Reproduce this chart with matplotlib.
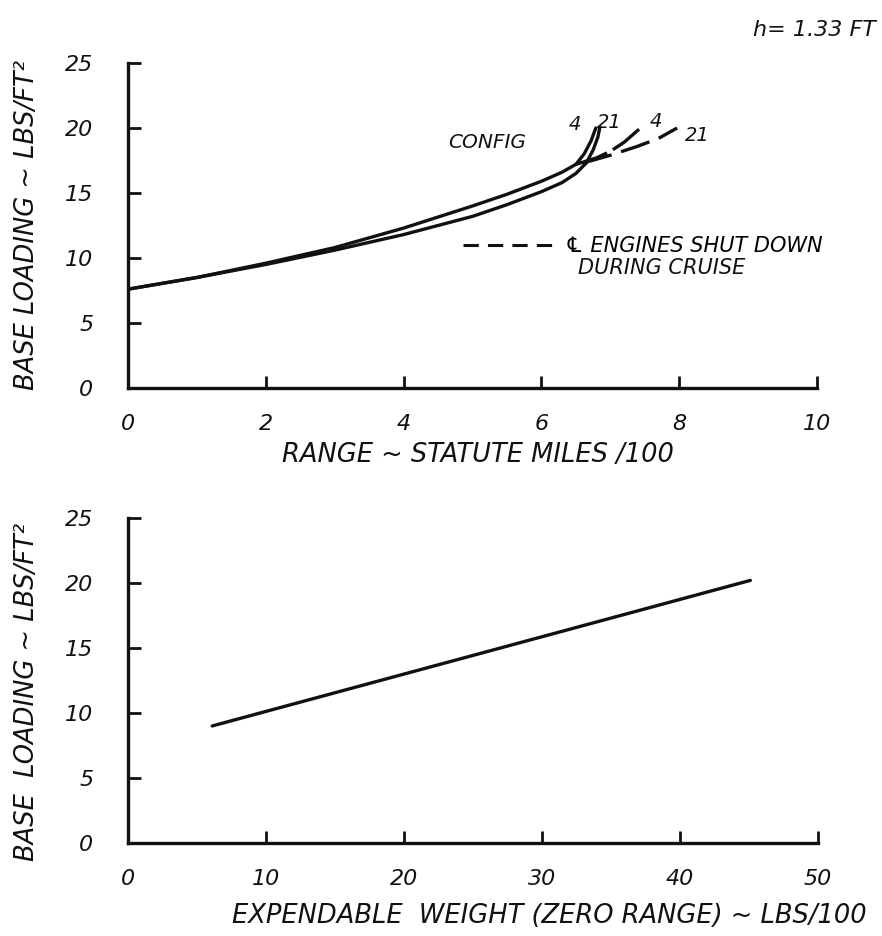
import matplotlib
matplotlib.use("Agg")
import matplotlib.pyplot as plt
from matplotlib.lines import Line2D

# Base loading vs range, all engines running
range_cfg4 = [0, 1, 2, 3, 4, 5, 5.5, 6.0, 6.3, 6.5, 6.62, 6.72, 6.79]
load_cfg4 = [7.6, 8.5, 9.6, 10.8, 12.3, 14.0, 14.9, 15.9, 16.6, 17.2, 18.0, 19.0, 20.0]
range_cfg21 = [0, 1, 2, 3, 4, 5, 5.5, 6.0, 6.3, 6.5, 6.65, 6.75, 6.82, 6.85]
load_cfg21 = [7.6, 8.5, 9.5, 10.6, 11.8, 13.2, 14.1, 15.1, 15.8, 16.5, 17.3, 18.3, 19.3, 20.1]

# Half of the engines shut down during cruise
range_cfg4_sd = [6.5, 6.8, 7.0, 7.2, 7.46]
load_cfg4_sd = [17.2, 17.7, 18.2, 18.9, 20.1]
range_cfg21_sd = [6.6, 7.0, 7.4, 7.7, 7.97]
load_cfg21_sd = [17.3, 17.9, 18.6, 19.2, 20.0]

range_ticks = [0, 2, 4, 6, 8, 10]
load_ticks = [0, 5, 10, 15, 20, 25]

# Base loading vs expendable weight at zero range
exp_weight = [6.1, 45.1]
exp_load = [9.0, 20.2]
weight_ticks = [0, 10, 20, 30, 40, 50]

plt.rcParams["font.family"] = ["DejaVu Sans"]
plt.rcParams["font.style"] = "italic"

INK = "#111111"
LW = 2.4

fig = plt.figure(figsize=(8.82, 9.36), dpi=100)
fig.patch.set_facecolor("white")
ax1 = fig.add_axes([0.1451, 0.5855, 0.7812, 0.3472])
ax2 = fig.add_axes([0.1451, 0.0994, 0.7823, 0.3472])


def style_axes(ax, xticks, yticks):
    for side in ("top", "right"):
        ax.spines[side].set_visible(False)
    for side in ("left", "bottom"):
        ax.spines[side].set_linewidth(2.4)
        ax.spines[side].set_color(INK)
    ax.set_xlim(xticks[0], xticks[-1])
    ax.set_ylim(yticks[0], yticks[-1])
    ax.set_xticks(xticks)
    ax.set_yticks(yticks)
    ax.tick_params(axis="both", direction="in", length=9, width=2, color=INK,
                   labelsize=16, labelcolor=INK)
    ax.tick_params(axis="x", pad=19)
    ax.tick_params(axis="y", pad=25)
    ax.set_facecolor("white")


# Upper panel: range
style_axes(ax1, range_ticks, load_ticks)
ax1.plot(range_cfg4, load_cfg4, color=INK, lw=LW, solid_capstyle="round")
ax1.plot(range_cfg21, load_cfg21, color=INK, lw=LW, solid_capstyle="round")
ax1.plot(range_cfg4_sd, load_cfg4_sd, color=INK, lw=LW, dashes=(10, 2))
ax1.plot(range_cfg21_sd, load_cfg21_sd, color=INK, lw=LW, dashes=(9, 3))

ax1.text(5.21, 18.85, "CONFIG", fontsize=14.5, ha="center", va="center", color=INK)
ax1.text(6.49, 20.3, "4", fontsize=14, ha="center", va="center", color=INK)
ax1.text(6.98, 20.4, "21", fontsize=14, ha="center", va="center", color=INK)
ax1.text(7.66, 20.5, "4", fontsize=14, ha="center", va="center", color=INK)
ax1.text(8.27, 19.4, "21", fontsize=14, ha="center", va="center", color=INK)

key = Line2D([], [], color=INK, lw=2.2, dashes=(5, 3))
leg = ax1.legend([key], ["\u2104 ENGINES SHUT DOWN"], loc="center left",
                 bbox_to_anchor=(0.48, 0.436), frameon=False, handlelength=4.4,
                 handletextpad=0.5, borderaxespad=0.0, borderpad=0.2,
                 prop={"size": 15, "style": "italic"})
ax1.text(6.53, 9.2, "DURING CRUISE", fontsize=15, ha="left", va="center", color=INK)

ax1.set_xlabel("RANGE ~ STATUTE MILES /100", fontsize=18.5, color=INK)
ax1.xaxis.set_label_coords(0.508, -0.165)
ax1.xaxis.label.set_va("top")
ax1.set_ylabel("BASE LOADING ~ LBS/FT\u00b2", fontsize=18.5, color=INK)
ax1.yaxis.set_label_coords(-0.128, 0.5)

# Lower panel: expendable weight
style_axes(ax2, weight_ticks, load_ticks)
ax2.plot(exp_weight, exp_load, color=INK, lw=LW, solid_capstyle="round")
ax2.set_xlabel("EXPENDABLE  WEIGHT (ZERO RANGE) ~ LBS/100", fontsize=18.5, color=INK)
ax2.xaxis.set_label_coords(0.61, -0.185)
ax2.xaxis.label.set_va("top")
ax2.set_ylabel("BASE  LOADING ~ LBS/FT\u00b2", fontsize=18.5, color=INK)
ax2.yaxis.set_label_coords(-0.128, 0.465)

fig.text(0.993, 0.968, "h= 1.33 FT", fontsize=16, ha="right", va="center", color=INK)

fig.savefig("out.png", dpi=100, facecolor="white")
